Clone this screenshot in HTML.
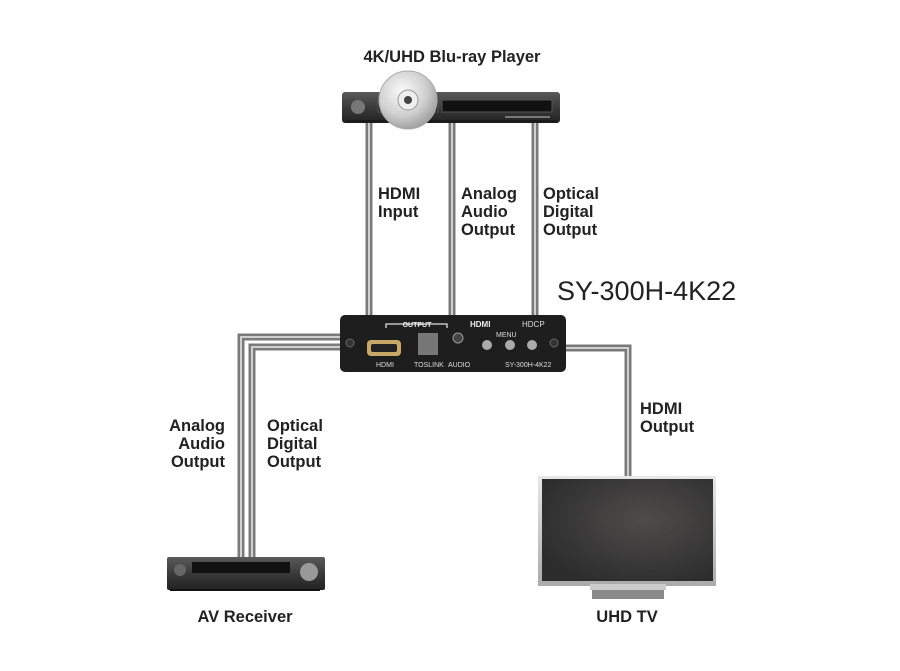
<!DOCTYPE html>
<html><head><meta charset="utf-8"><style>
html,body{margin:0;padding:0;background:#fff;}
svg{display:block}
text{font-family:"Liberation Sans",sans-serif;}
.l{font-weight:bold;font-size:16.5px;fill:#222;}
</style></head><body>
<svg width="900" height="671" viewBox="0 0 900 671" xmlns="http://www.w3.org/2000/svg">
<defs>
<linearGradient id="bl" x1="0" y1="0" x2="0" y2="1"><stop offset="0" stop-color="#5a5a5a"/><stop offset="0.5" stop-color="#3a3a3a"/><stop offset="1" stop-color="#222"/></linearGradient>
<radialGradient id="disc" cx="0.4" cy="0.35" r="0.7"><stop offset="0" stop-color="#fafafa"/><stop offset="0.6" stop-color="#cfcfcf"/><stop offset="1" stop-color="#999"/></radialGradient>
<radialGradient id="scr" cx="0.6" cy="0.4" r="0.7"><stop offset="0" stop-color="#4e4c4b"/><stop offset="1" stop-color="#2c2c2c"/></radialGradient>
<linearGradient id="tvf" x1="0" y1="0" x2="0" y2="1"><stop offset="0" stop-color="#e8e8e8"/><stop offset="1" stop-color="#aaa"/></linearGradient>
</defs>
<g fill="none" stroke-linejoin="miter">
<g stroke="#7a7a7a" stroke-width="7">
<path d="M369 118V318"/><path d="M452 118V318"/><path d="M535 118V318"/>
<path d="M342 337H241V560"/><path d="M342 347H252V560"/>
<path d="M566 348H628V478"/>
</g>
<g stroke="#d0d0d0" stroke-width="2">
<path d="M369 118V318"/><path d="M452 118V318"/><path d="M535 118V318"/>
<path d="M342 337H241V560"/><path d="M342 347H252V560"/>
<path d="M566 348H628V478"/>
</g>
</g>
<rect x="342" y="92" width="218" height="31" rx="3" fill="url(#bl)"/>
<rect x="345" y="120" width="212" height="3" fill="#1a1a1a"/>
<circle cx="358" cy="107" r="7" fill="#777"/>
<rect x="442" y="100" width="110" height="12" fill="#111" stroke="#555" stroke-width="1"/>
<rect x="378" y="100" width="60" height="12" fill="#222" stroke="#555" stroke-width="1"/>
<rect x="505" y="116" width="45" height="2" fill="#777"/>
<circle cx="408" cy="100" r="29" fill="url(#disc)" stroke="#aaa" stroke-width="1"/>
<circle cx="408" cy="100" r="10" fill="#eee" stroke="#999"/>
<circle cx="408" cy="100" r="4" fill="#444"/>
<rect x="340" y="315" width="226" height="57" rx="5" fill="#1e1e1e"/>
<rect x="367" y="340" width="34" height="16" rx="4" fill="#c9a867"/>
<rect x="371" y="344" width="26" height="8" rx="2" fill="#222"/>
<rect x="418" y="333" width="20" height="22" fill="#777"/>
<circle cx="458" cy="338" r="5" fill="#444" stroke="#999"/>
<circle cx="487" cy="345" r="5" fill="#aaa"/><circle cx="510" cy="345" r="5" fill="#aaa"/><circle cx="532" cy="345" r="5" fill="#aaa"/>
<circle cx="350" cy="343" r="4" fill="#333" stroke="#666"/><circle cx="554" cy="343" r="4" fill="#333" stroke="#666"/>
<path d="M386 328V324H447V328" stroke="#ddd" fill="none" stroke-width="1.3"/>
<text x="417" y="327" font-size="7" fill="#eee" text-anchor="middle" font-weight="bold">OUTPUT</text>
<text x="470" y="327" font-size="8" fill="#eee" font-weight="bold">HDMI</text>
<text x="522" y="327" font-size="8" fill="#ddd">HDCP</text>
<text x="496" y="337" font-size="7" fill="#ddd">MENU</text>
<text x="376" y="367" font-size="7" fill="#ddd">HDMI</text>
<text x="414" y="367" font-size="7" fill="#ddd">TOSLINK</text>
<text x="448" y="367" font-size="7" fill="#ddd">AUDIO</text>
<text x="505" y="367" font-size="7" fill="#ddd">SY-300H-4K22</text>
<rect x="167" y="557" width="158" height="33" rx="2" fill="url(#bl)"/>
<circle cx="180" cy="570" r="6" fill="#666"/>
<rect x="192" y="562" width="98" height="11" fill="#111"/>
<circle cx="309" cy="572" r="9" fill="#999"/>
<rect x="170" y="589" width="150" height="2" fill="#111"/>
<rect x="538" y="476" width="178" height="110" fill="url(#tvf)"/>
<rect x="542" y="479" width="171" height="102" fill="url(#scr)"/>
<rect x="590" y="584" width="76" height="6" fill="#ccc"/>
<rect x="592" y="590" width="72" height="9" fill="#8a8a8a"/>
<text x="452" y="62" class="l" text-anchor="middle">4K/UHD Blu-ray Player</text>
<text x="378" y="199" class="l">HDMI</text><text x="378" y="217" class="l">Input</text>
<text x="461" y="199" class="l">Analog</text><text x="461" y="217" class="l">Audio</text><text x="461" y="235" class="l">Output</text>
<text x="543" y="199" class="l">Optical</text><text x="543" y="217" class="l">Digital</text><text x="543" y="235" class="l">Output</text>
<text x="557" y="300" font-size="27" fill="#222">SY-300H-4K22</text>
<text x="225" y="431" class="l" text-anchor="end">Analog</text><text x="225" y="449" class="l" text-anchor="end">Audio</text><text x="225" y="467" class="l" text-anchor="end">Output</text>
<text x="267" y="431" class="l">Optical</text><text x="267" y="449" class="l">Digital</text><text x="267" y="467" class="l">Output</text>
<text x="640" y="414" class="l">HDMI</text><text x="640" y="432" class="l">Output</text>
<text x="245" y="622" class="l" text-anchor="middle">AV Receiver</text>
<text x="627" y="622" class="l" text-anchor="middle">UHD TV</text>
</svg>
</body></html>
